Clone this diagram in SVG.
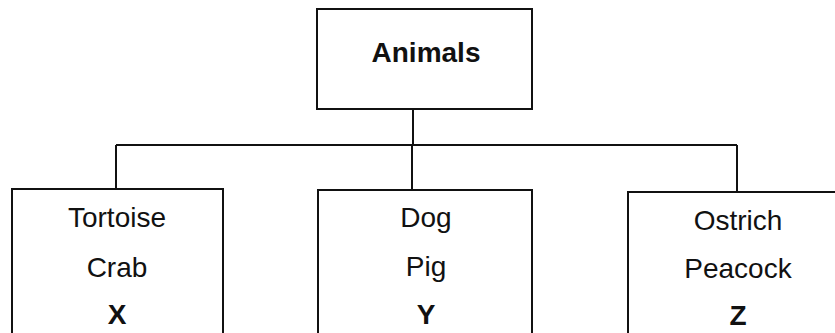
<svg xmlns="http://www.w3.org/2000/svg" width="835" height="333" viewBox="0 0 835 333">
<style>
.box{fill:#fff;stroke:#111;stroke-width:2}
.con{fill:none;stroke:#111;stroke-width:2}
text{font-family:"Liberation Sans",Arial,sans-serif;font-size:28px;fill:#111;text-anchor:middle}
.b{font-weight:bold}
</style>
<rect width="835" height="333" fill="#fff"/>
<g id="connectors">
<path class="con" d="M413 109V145M116 145H737M116 145V189M412 145V190M737 145V192"/>
</g>
<g id="animals">
<rect class="box" x="317" y="9" width="215" height="100"/>
<text class="b" x="426" y="62">Animals</text>
</g>
<g id="groupX">
<rect class="box" x="12" y="189" width="211" height="160"/>
<text x="117" y="227">Tortoise</text>
<text x="117" y="277">Crab</text>
<text class="b" x="117" y="324">X</text>
</g>
<g id="groupY">
<rect class="box" x="318" y="190" width="214" height="160"/>
<text x="426" y="227">Dog</text>
<text x="426" y="276">Pig</text>
<text class="b" x="426" y="324">Y</text>
</g>
<g id="groupZ">
<rect class="box" x="628" y="192" width="230" height="160"/>
<text x="738" y="230">Ostrich</text>
<text x="738" y="278">Peacock</text>
<text class="b" x="738" y="325">Z</text>
</g>
</svg>
